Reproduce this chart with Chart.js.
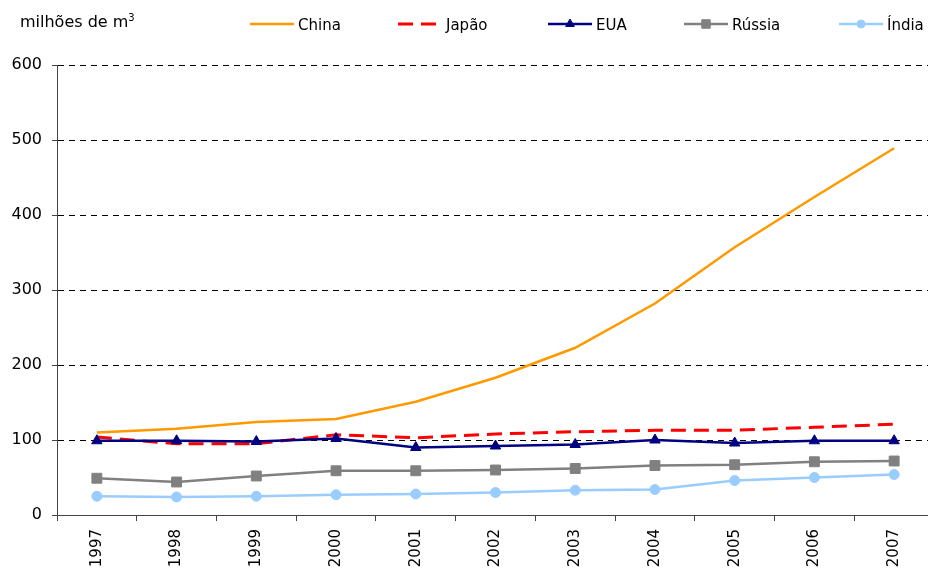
<!DOCTYPE html>
<html>
<head>
<meta charset="utf-8">
<script src="https://cdn.jsdelivr.net/npm/chart.js@4.4.1/dist/chart.umd.min.js"></script>
<style>
  html, body { margin: 0; padding: 0; background: #fff; overflow: hidden; }
  #wrap { position: relative; width: 942px; height: 571px; }
  #unit { position: absolute; left: 20px; top: 12px; font: 16px "DejaVu Sans", sans-serif; color: #000; }
  #unit sup { font-size: 10px; }
</style>
</head>
<body>
<div id="wrap">
  <canvas id="chart" width="942" height="571"></canvas>
  <div id="unit">milhões de m<sup>3</sup></div>
</div>
<script>
const years = ["1997", "1998", "1999", "2000", "2001", "2002", "2003", "2004", "2005", "2006", "2007"];
const china = [110, 115, 124, 128, 151, 183, 223, 282, 357, 424, 489];
const japao = [104, 95, 95, 107, 103, 108, 111, 113, 113, 117, 121];
const eua = [99, 99, 98, 102, 90, 92, 94, 100, 96, 99, 99];
const russia = [49, 44, 52, 59, 59, 60, 62, 66, 67, 71, 72];
const india = [25, 24, 25, 27, 28, 30, 33, 34, 46, 50, 54];
const yTicks = [0, 100, 200, 300, 400, 500, 600];

const FONT = "DejaVu Sans";
const legendX = [250, 398, 548, 684, 839];

// legend drawn on the canvas, line + marker like the spreadsheet original
const lineLegend = {
  id: "lineLegend",
  afterDraw(chart) {
    const ctx = chart.ctx;
    const y = 24;
    ctx.save();
    ctx.font = "15px '" + FONT + "'";
    ctx.textBaseline = "middle";
    chart.data.datasets.forEach(function (ds, i) {
      const x = legendX[i];
      ctx.save();
      ctx.strokeStyle = ds.borderColor;
      ctx.lineWidth = ds.borderWidth;
      ctx.setLineDash(ds.borderDash || []);
      ctx.beginPath();
      ctx.moveTo(x, y);
      ctx.lineTo(x + 44, y);
      ctx.stroke();
      ctx.restore();
      if (ds.pointRadius > 0) {
        ctx.save();
        ctx.fillStyle = ds.pointBackgroundColor;
        ctx.strokeStyle = ds.pointBorderColor;
        ctx.lineWidth = 1;
        Chart.helpers.drawPoint(ctx, { pointStyle: ds.pointStyle, radius: ds.pointRadius - 1, rotation: 0, borderWidth: 1 }, x + 22, y);
        ctx.restore();
      }
      ctx.fillStyle = "#000";
      ctx.fillText(ds.label, x + 48, y + 2);
    });
    ctx.restore();
  }
};

const mkSet = (label, data, color, style, radius, dash, order) => ({
  label: label,
  data: data,
  borderColor: color,
  backgroundColor: color,
  borderWidth: dash ? 3 : 2.5,
  borderDash: dash || [],
  pointStyle: style,
  pointRadius: radius,
  pointHoverRadius: radius,
  pointBackgroundColor: color,
  pointBorderColor: color,
  pointBorderWidth: 1,
  tension: 0,
  fill: false,
  order: order,
});

new Chart(document.getElementById("chart"), {
  type: "line",
  data: {
    labels: years,
    datasets: [
      mkSet("China", china, "#FF9900", "circle", 0, null, 4),
      mkSet("Japão", japao, "#FF0000", "circle", 0, [15, 8], 3),
      mkSet("EUA", eua, "#000080", "triangle", 6, null, 2),
      mkSet("Rússia", russia, "#808080", "rect", 7, null, 1),
      mkSet("Índia", india, "#99CCFF", "circle", 5, null, 0),
    ],
  },
  options: {
    responsive: false,
    animation: false,
    layout: { padding: { top: 65, left: 0, right: 0, bottom: 0 } },
    plugins: {
      legend: { display: false },
      title: { display: false },
      tooltip: { enabled: false },
    },
    scales: {
      x: {
        offset: true,
        grid: {
          offset: true,
          drawOnChartArea: false,
          drawTicks: true,
          tickLength: 6,
          tickColor: "#444",
          lineWidth: 1,
        },
        border: { color: "#444", width: 1 },
        ticks: {
          minRotation: 90,
          maxRotation: 90,
          padding: 8,
          color: "#000",
          font: { family: FONT, size: 15 },
        },
        afterFit: (s) => { s.height = 56; },
      },
      y: {
        min: 0,
        max: 600,
        afterBuildTicks: (s) => { s.ticks = yTicks.map((v) => ({ value: v })); },
        grid: {
          color: (c) => (c.tick && c.tick.value === 0 ? "rgba(0,0,0,0)" : "#000"),
          lineWidth: 1,
          tickLength: 5,
          tickColor: "#444",
        },
        border: { color: "#444", width: 1, dash: [6, 5] },
        ticks: {
          padding: 10,
          color: "#000",
          font: { family: FONT, size: 16 },
        },
        afterFit: (s) => { s.width = 57; },
      },
    },
  },
  plugins: [lineLegend],
});
</script>
</body>
</html>
